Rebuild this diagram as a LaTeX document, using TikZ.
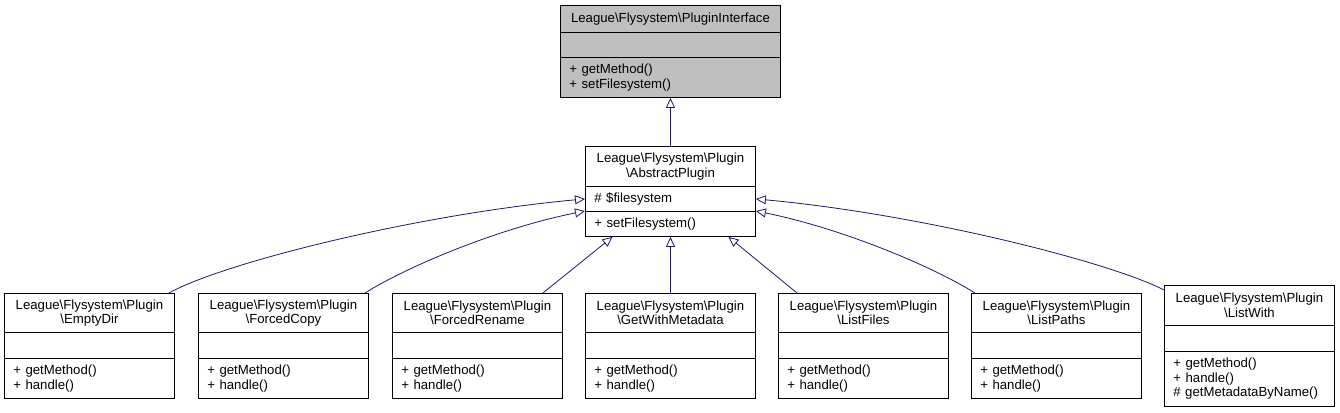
\documentclass[tikz,border=0pt]{standalone}
\usepackage{fontspec}
\setmainfont{Liberation Sans}
\usetikzlibrary{arrows.meta}
\definecolor{edgeblue}{RGB}{25,25,112}
\definecolor{ifacegray}{RGB}{191,191,191}
\newcommand{\fnt}{\fontsize{13.2}{14.5}\selectfont}
\newcommand{\bs}{\textbackslash}
\tikzset{
  cls/.style={draw=black, line width=0.9pt, anchor=north west, inner sep=0pt,
    minimum width=170pt, text width=152pt, font=\fnt},
  ttl/.style={cls, align=center},
  mem/.style={cls, align=left},
  wide/.style={minimum width=220pt, text width=202pt, fill=ifacegray},
  inh/.style={draw=edgeblue, line width=0.8pt,
    -{Triangle[open, length=10pt, width=9pt, fill=white]}}
}
\begin{document}
\begin{tikzpicture}[x=1pt, y=-1pt]
\useasboundingbox (0,0) rectangle (1340,412);
% Interface
\node[ttl, wide, minimum height=27pt] (piT) at (560,5) {League\bs Flysystem\bs PluginInterface};
\node[mem, wide, minimum height=25pt] (piA) at (560,32) {};
\node[mem, wide, minimum height=40pt] (piM) at (560,57) {+ getMethod()\\+ setFilesystem()};
% AbstractPlugin
\node[ttl, minimum height=40pt] (abT) at (585,146) {League\bs Flysystem\bs Plugin\\\bs AbstractPlugin};
\node[mem, minimum height=25pt] (abA) at (585,186) {\# \$filesystem};
\node[mem, minimum height=25pt] (abM) at (585,211) {+ setFilesystem()};
% EmptyDir
\node[ttl, minimum height=39pt] (emptyT) at (4,293) {League\bs Flysystem\bs Plugin\\\bs EmptyDir};
\node[mem, minimum height=26pt] (emptyA) at (4,332) {};
\node[mem, minimum height=40pt] (emptyM) at (4,358) {+ getMethod()\\+ handle()};
% ForcedCopy
\node[ttl, minimum height=39pt] (copyT) at (198,293) {League\bs Flysystem\bs Plugin\\\bs ForcedCopy};
\node[mem, minimum height=26pt] (copyA) at (198,332) {};
\node[mem, minimum height=40pt] (copyM) at (198,358) {+ getMethod()\\+ handle()};
% ForcedRename
\node[ttl, minimum height=39pt] (renT) at (392,293) {League\bs Flysystem\bs Plugin\\\bs ForcedRename};
\node[mem, minimum height=26pt] (renA) at (392,332) {};
\node[mem, minimum height=40pt] (renM) at (392,358) {+ getMethod()\\+ handle()};
% GetWithMetadata
\node[ttl, minimum height=39pt] (getT) at (585,293) {League\bs Flysystem\bs Plugin\\\bs GetWithMetadata};
\node[mem, minimum height=26pt] (getA) at (585,332) {};
\node[mem, minimum height=40pt] (getM) at (585,358) {+ getMethod()\\+ handle()};
% ListFiles
\node[ttl, minimum height=39pt] (filesT) at (778,293) {League\bs Flysystem\bs Plugin\\\bs ListFiles};
\node[mem, minimum height=26pt] (filesA) at (778,332) {};
\node[mem, minimum height=40pt] (filesM) at (778,358) {+ getMethod()\\+ handle()};
% ListPaths
\node[ttl, minimum height=39pt] (pathsT) at (971,293) {League\bs Flysystem\bs Plugin\\\bs ListPaths};
\node[mem, minimum height=26pt] (pathsA) at (971,332) {};
\node[mem, minimum height=40pt] (pathsM) at (971,358) {+ getMethod()\\+ handle()};
% ListWith
\node[ttl, minimum height=40pt] (withT) at (1164,285) {League\bs Flysystem\bs Plugin\\\bs ListWith};
\node[mem, minimum height=26pt] (withA) at (1164,325) {};
\node[mem, minimum height=55pt] (withM) at (1164,351) {+ getMethod()\\+ handle()\\\# getMetadataByName()};
% Edges
\draw[inh] (abT.north) -- (piM.south);
\draw[inh] ([xshift=-6pt]emptyT.north east) .. controls (225,262) and (420,214) .. (abA.west);
\draw[inh] ([xshift=-4pt]copyT.north east) .. controls (410,265) and (500,228) .. (abM.north west);
\draw[inh] ([xshift=-20pt]renT.north east) -- ([xshift=-58pt]abM.south);
\draw[inh] (getT.north) -- (abM.south);
\draw[inh] ([xshift=19pt]filesT.north west) -- ([xshift=58pt]abM.south);
\draw[inh] ([xshift=4pt]pathsT.north west) .. controls (930,265) and (840,228) .. (abM.north east);
\draw[inh] ([yshift=-5pt]withT.north west) .. controls (1110,262) and (920,214) .. (abA.east);
\end{tikzpicture}
\end{document}
